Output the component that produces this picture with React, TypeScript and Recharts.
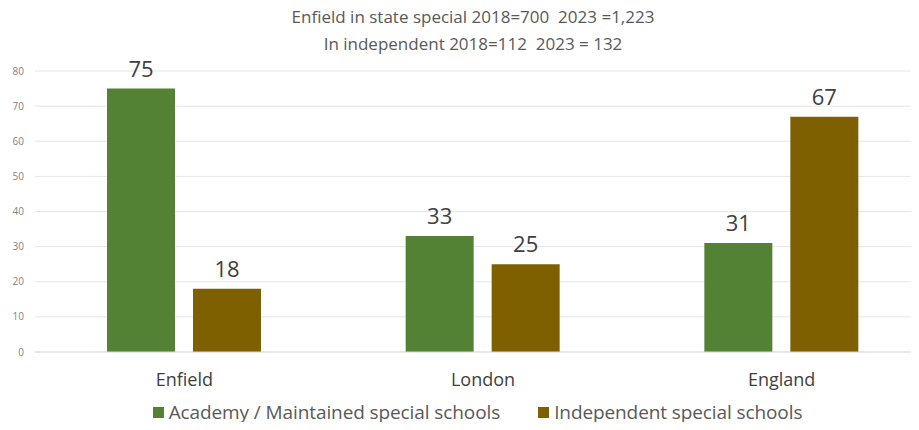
import React from "react";
import { BarChart, Bar, XAxis, YAxis, CartesianGrid, LabelList, Legend } from "recharts";

const categories = ["Enfield", "London", "England"];
const academyValues = [75, 33, 31];
const independentValues = [18, 25, 67];
const yTicks = [0, 10, 20, 30, 40, 50, 60, 70, 80];
const titleLines = [
  "Enfield in state special 2018=700  2023 =1,223",
  "In independent 2018=112  2023 = 132",
];
const seriesNames = ["Academy / Maintained special schools", "Independent special schools"];
const colors = ["#548235", "#7F6000"];

const data = categories.map((c, i) => ({
  name: c,
  academy: academyValues[i],
  independent: independentValues[i],
}));

const FONT = "'Open Sans', 'Noto Sans', sans-serif";

const renderLegend = () => (
  <div style={{ display: "flex", justifyContent: "center", alignItems: "center", height: 28, fontFamily: FONT, fontSize: 19, color: "#595959", letterSpacing: -0.1 }}>
    {seriesNames.map((n, i) => (
      <div key={n} style={{ display: "flex", alignItems: "center", marginRight: i === 0 ? 38 : 0 }}>
        <span style={{ width: 11, height: 11, background: colors[i], display: "inline-block", marginRight: 5 }} />
        <span>{n}</span>
      </div>
    ))}
  </div>
);

export default function App() {
  return (
    <div style={{ position: "relative", width: 919, height: 430, overflow: "hidden", margin: -8, background: "#fff" }}>
      <div style={{ position: "absolute", left: 0, top: 3, width: 946, textAlign: "center", fontFamily: FONT, fontSize: 17, color: "#595959", lineHeight: "27px", letterSpacing: 0, zIndex: 2 }}>
        {titleLines.map((t) => (
          <div key={t} style={{ whiteSpace: "pre" }}>{t}</div>
        ))}
      </div>
      <BarChart
        width={935}
        height={430}
        data={data}
        margin={{ top: 71, right: 4, left: 0, bottom: 4 }}
        barSize={68}
        barGap={18}
      >
        <CartesianGrid vertical={false} stroke="#e6e6e6" />
        <XAxis
          dataKey="name"
          axisLine={{ stroke: "#d9d9d9" }}
          tickLine={false}
          tickMargin={15}
          height={46}
          tick={{ fontSize: 18, fill: "#404040", fontFamily: FONT }}
        />
        <YAxis
          width={35}
          domain={[0, 80]}
          ticks={yTicks}
          axisLine={false}
          tickLine={false}
          tickMargin={5}
          tick={{ fontSize: 10, fill: "#7f7f7f", fontFamily: FONT }}
        />
        <Legend verticalAlign="bottom" content={renderLegend} wrapperStyle={{ left: 0, width: 955 }} height={28} />
        <Bar dataKey="academy" name={seriesNames[0]} fill={colors[0]} isAnimationActive={false}>
          <LabelList dataKey="academy" position="top" offset={12} style={{ fontSize: 22, fill: "#404040", fontFamily: FONT }} />
        </Bar>
        <Bar dataKey="independent" name={seriesNames[1]} fill={colors[1]} isAnimationActive={false}>
          <LabelList dataKey="independent" position="top" offset={12} style={{ fontSize: 22, fill: "#404040", fontFamily: FONT }} />
        </Bar>
      </BarChart>
    </div>
  );
}
